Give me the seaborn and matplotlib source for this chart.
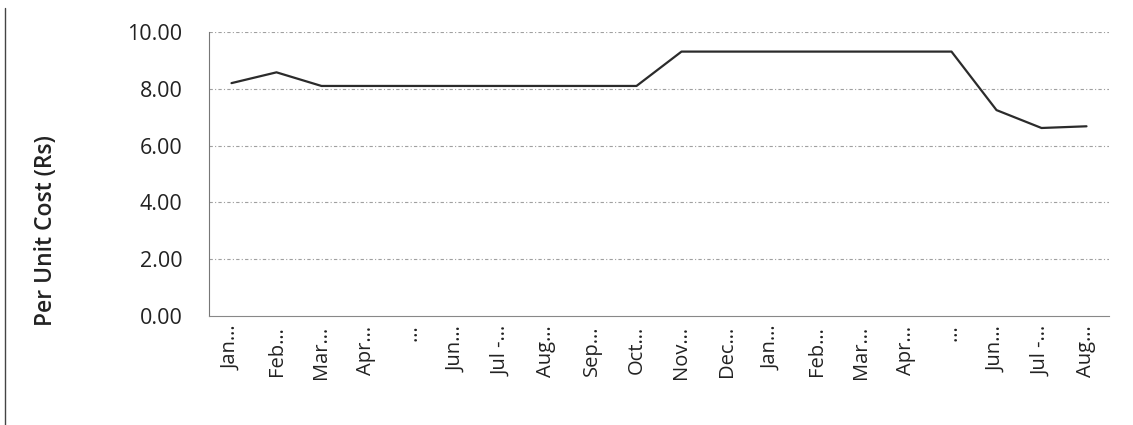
import matplotlib
matplotlib.use("Agg")
import matplotlib.pyplot as plt
import seaborn as sns
import pandas as pd
from matplotlib.lines import Line2D

months = ["Jan…", "Feb…", "Mar…", "Apr…", "…", "Jun…", "Jul -…", "Aug…", "Sep…", "Oct…",
          "Nov…", "Dec…", "Jan…", "Feb…", "Mar…", "Apr…", "…", "Jun…", "Jul -…", "Aug…"]
cost = [8.20, 8.58, 8.10, 8.10, 8.10, 8.10, 8.10, 8.10, 8.10, 8.10,
        9.31, 9.31, 9.31, 9.31, 9.31, 9.31, 9.31, 7.25, 6.62, 6.68]
y_ticks = [0, 2, 4, 6, 8, 10]

df = pd.DataFrame({"pos": range(len(months)), "cost": cost})

sns.set_theme(style="white")
plt.rcParams["font.family"] = ["Open Sans", "DejaVu Sans"]

fig = plt.figure(figsize=(11.33, 4.25), dpi=100)
ax = fig.add_axes([209 / 1133, 1 - 316 / 425, 900 / 1133, 284 / 425])

sns.lineplot(data=df, x="pos", y="cost", ax=ax, color="#2b2b2b", linewidth=1.6)

ax.set_xlim(-0.5, len(months) - 0.5)
ax.set_ylim(0, 10)
ax.set_yticks(y_ticks)
ax.set_yticklabels([f"{v:.2f}" for v in y_ticks], fontsize=15.5, color="#222222")
ax.set_xticks(range(len(months)))
ax.set_xticklabels(months, rotation=90, fontsize=14.5, color="#222222")
ax.tick_params(axis="y", length=0, pad=19)
ax.tick_params(axis="x", length=0, pad=7)

for v in y_ticks[1:]:
    ax.axhline(v, color="#a0a0a0", linewidth=0.8, linestyle=(0, (3, 2, 1, 2)), zorder=0)

for side in ["top", "right"]:
    ax.spines[side].set_visible(False)
ax.spines["left"].set_color("#777777")
ax.spines["left"].set_linewidth(0.8)
ax.spines["bottom"].set_color("#888888")
ax.spines["bottom"].set_linewidth(0.8)
ax.spines["bottom"].set_linestyle((0, (4, 1, 1, 1)))

ax.set_xlabel("")
ax.set_ylabel("Per Unit Cost (Rs)", fontsize=16.5, fontweight="semibold", color="#222222")
ax.yaxis.set_label_coords((58 - 209) / 900, (316 - 231) / 284)

fig.add_artist(Line2D([5 / 1133, 5 / 1133], [1 - 8 / 425, 0],
                      transform=fig.transFigure, color="#444444", linewidth=1.0))

fig.savefig("out.png", dpi=100, facecolor="white")
